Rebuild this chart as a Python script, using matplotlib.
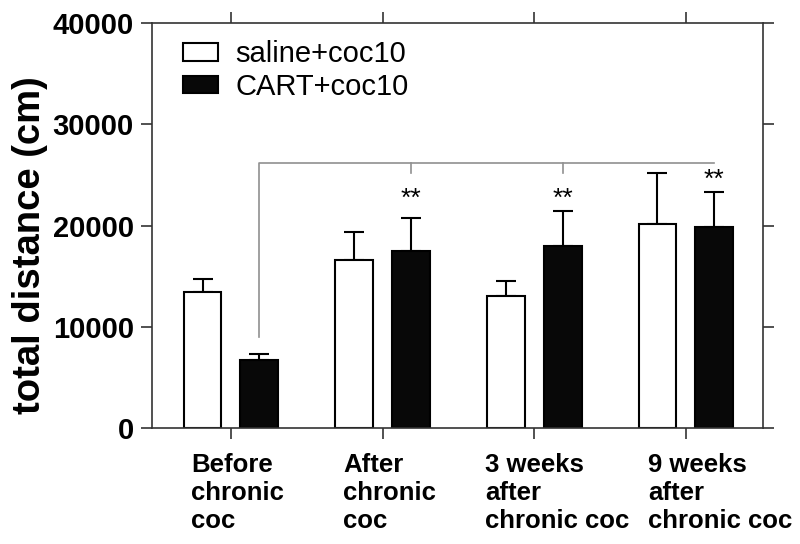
import matplotlib
matplotlib.use("Agg")
import matplotlib.pyplot as plt
import matplotlib.transforms as mtrans
import numpy as np

plt.rcParams['font.family'] = ['Liberation Sans', 'DejaVu Sans']

groups = ['Before\nchronic\ncoc', 'After\nchronic\ncoc',
          '3 weeks\nafter\nchronic coc', '9 weeks\nafter\nchronic coc']
saline = [13450, 16590, 13060, 20180]
saline_err = [1260, 2770, 1450, 4980]
cart = [6700, 17510, 17970, 19850]
cart_err = [660, 3260, 3460, 3490]
sig_groups = [1, 2, 3]          # groups where CART bar carries **
sig_y = [22600, 22600, 24500]   # height of the ** marks
bracket_y = 26200

x = np.arange(len(groups))
off = 0.187
w = 0.25
lab_shift = [-0.262, -0.259, -0.323, -0.250]   # left edge of each group label

fig = plt.figure(figsize=(8, 5.44), dpi=100)
ax = fig.add_axes([0.19, 0.2132, 0.764, 0.744])

ek = dict(ecolor='black', elinewidth=1.5, capsize=7, capthick=1.5, zorder=1)
ax.bar(x - off, saline, w, color='white', edgecolor='black', lw=1.5,
       zorder=2, label='saline+coc10')
ax.errorbar(x - off, saline, yerr=[np.zeros(4), saline_err], fmt='none', **ek)
ax.bar(x + off, cart, w, color='#080808', edgecolor='black', lw=1.5,
       zorder=2, label='CART+coc10')
ax.errorbar(x + off, cart, yerr=[np.zeros(4), cart_err], fmt='none', **ek)

# significance bracket
gc = '#909090'
ax.plot([x[0] + off, x[0] + off, x[3] + off],
        [cart[0] + 2300, bracket_y, bracket_y], color=gc, lw=1.2, zorder=1)
for g in [1, 2]:
    ax.plot([x[g] + off, x[g] + off], [bracket_y, bracket_y - 1000],
            color=gc, lw=1.2, zorder=1)
for g, sy in zip(sig_groups, sig_y):
    ax.text(x[g] + off, sy, '**', ha='center', va='center', fontsize=19)

ax.set_xlim(-0.52, 3.51)
ax.set_ylim(0, 40000)
ax.set_yticks([0, 10000, 20000, 30000, 40000])
ax.set_xticks(x)
ax.set_xticklabels([])
for lab in ax.get_yticklabels():
    lab.set_fontweight('bold')
    lab.set_fontsize(21)

sc = '#333333'
for s in ax.spines.values():
    s.set_color(sc)
    s.set_linewidth(1.2)
ax.tick_params(axis='both', which='both', direction='out', top=True,
               right=True, color=sc, width=1.2, length=8, pad=5)

trans = mtrans.blended_transform_factory(ax.transData, ax.transAxes)
for xi, g, sh in zip(x, groups, lab_shift):
    ax.text(xi + sh, -0.062, g, transform=trans, ha='left', va='top',
            fontsize=18.5, fontweight='bold', linespacing=1.22)

fig.text(0.038, 1 - 245 / 544, 'total distance (cm)', rotation=90,
         ha='center', va='center', fontsize=27.5, fontweight='bold')

ax.legend(loc='upper left', bbox_to_anchor=(0.05, 0.958), frameon=False,
          fontsize=21, handlelength=1.2, handleheight=0.55,
          handletextpad=0.6, labelspacing=0.15, borderpad=0,
          borderaxespad=0)

fig.savefig('out.png', dpi=100)
